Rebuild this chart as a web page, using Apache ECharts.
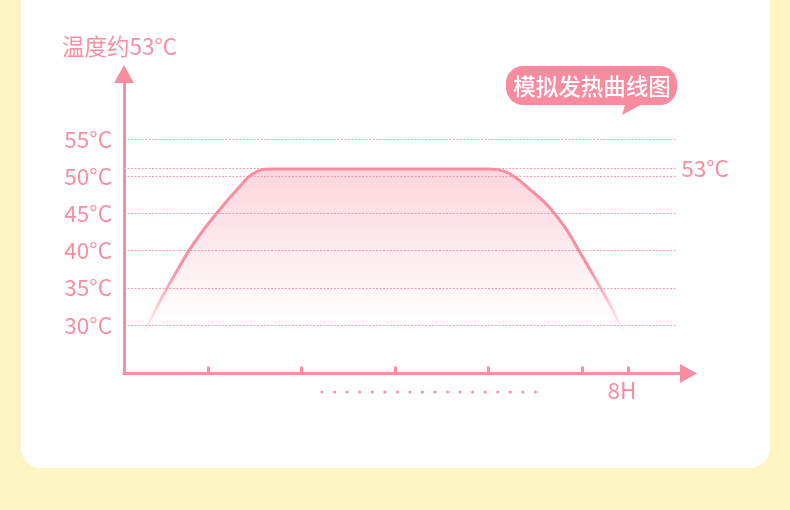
<!DOCTYPE html>
<html>
<head>
<meta charset="utf-8">
<script src="https://cdn.jsdelivr.net/npm/echarts@6/dist/echarts.min.js"></script>
<style>
html,body{margin:0;padding:0;background:#fdf5c3;}
#c{width:790px;height:510px;}
</style>
</head>
<body>
<div id="c"></div>
<script>
// ---- data ----
const yAxisTitle = '温度约53°C';
const bubbleText = '模拟发热曲线图';
const tempTicks = [30, 35, 40, 45, 50, 55];          // labelled gridlines (°C)
const curveHours = [0.33, 0.49, 0.68, 0.85, 1.02, 1.22, 1.47, 1.71, 1.87, 1.97, 2.11, 2.24, 2.40,
                    5.81, 6.05, 6.23, 6.44, 6.66, 6.83, 7.04, 7.23, 7.40, 7.57, 7.77, 7.92];
const curveTemps = [29.3, 31.9, 34.9, 37.4, 39.85, 42.3, 45.0, 47.4, 48.9, 49.85, 50.6, 50.9, 50.93,
                    50.93, 50.6, 49.7, 48.2, 46.6, 45.0, 42.6, 39.85, 37.4, 34.9, 31.8, 29.1];
const plateauLevel = 51.05;                           // drawn level of the plateau guide
const plateauLabel = '53°C';
const xTickHours = [1.33, 2.81, 4.30, 5.78, 7.27, 8];
const xLabelHours = [8];
const xLabelText = '8H';

const PINK = '#f98ea2';
const GRIDPINK = '#f7a0b1';
const FONT = '"Noto Sans CJK SC", "Noto Sans", sans-serif';

const curveData = curveHours.map((h, i) => [h, curveTemps[i]]);

const chart = echarts.init(document.getElementById('c'), null, {renderer: 'canvas'});
chart.setOption({
  backgroundColor: '#fdf5c3',
  animation: false,
  textStyle: {fontFamily: FONT},
  title: {
    text: yAxisTitle,
    left: 62, top: 35, padding: 0,
    textStyle: {color: PINK, fontSize: 22.5, fontWeight: 'normal', fontFamily: FONT}
  },
  graphic: [
    {type: 'rect', z: -100, shape: {x: 21, y: -40, width: 749, height: 508, r: 20}, style: {fill: '#ffffff'}},
    {type: 'rect', z: 100, shape: {x: 506, y: 66, width: 171, height: 39, r: 17}, style: {fill: '#f98b9f'}},
    {type: 'polygon', z: 100, shape: {points: [[626, 102], [646, 102], [622, 115]]}, style: {fill: '#f98b9f'}},
    {type: 'text', z: 101, x: 592, y: 86, style: {text: bubbleText, fill: '#ffffff', font: '500 22.5px ' + FONT, align: 'center', verticalAlign: 'middle'}},
    {type: 'line', z: 10, shape: {x1: 322, y1: 392, x2: 536, y2: 392},
     style: {stroke: PINK, lineWidth: 3, lineCap: 'round', lineDash: [0.1, 12.45]}}
  ],
  grid: [
    {left: 124, right: 101.5, top: 74, bottom: 136.6},
    {left: 124, right: 113, top: 139, bottom: 185}
  ],
  xAxis: [
    {
      gridIndex: 0, type: 'value', min: 0, max: 8.96,
      axisLine: {onZero: false, show: true, symbol: ['none', 'triangle'], symbolSize: [19, 17], lineStyle: {color: PINK, width: 3}},
      axisTick: {show: true, inside: true, length: 7, customValues: xTickHours, lineStyle: {color: PINK, width: 3}},
      axisLabel: {show: true, customValues: xLabelHours, formatter: () => xLabelText, color: PINK, fontSize: 22.5, fontFamily: FONT, margin: 6, padding: [0, 12, 0, 0]},
      splitLine: {show: false}
    },
    {
      gridIndex: 1, type: 'value', min: 0, max: 8.78, show: false
    }
  ],
  yAxis: [
    {
      gridIndex: 0, type: 'value', min: 23.5, max: 63.7,
      axisLine: {onZero: false, show: true, symbol: ['none', 'triangle'], symbolSize: [20, 18], lineStyle: {color: PINK, width: 3}},
      axisTick: {show: false}, axisLabel: {show: false}, splitLine: {show: false}
    },
    {
      gridIndex: 1, type: 'value', min: tempTicks[0], max: tempTicks[tempTicks.length - 1], interval: 5,
      axisLine: {show: false}, axisTick: {show: false},
      axisLabel: {formatter: '{value}°C', color: PINK, fontSize: 22.5, fontFamily: FONT, margin: 12, padding: [6, 0, 0, 0]},
      splitLine: {show: true, lineStyle: {color: GRIDPINK, width: 1.2, type: [2, 1.5]}}
    }
  ],
  series: [
    {
      type: 'line', xAxisIndex: 0, yAxisIndex: 0,
      data: curveData, smooth: 0.4, symbol: 'none', z: 5,
      lineStyle: {width: 3, color: {type: 'linear', x: 0, y: 0, x2: 0, y2: 1, colorStops: [
        {offset: 0, color: PINK}, {offset: 0.6, color: PINK}, {offset: 1, color: 'rgba(249,142,162,0)'}]}},
      areaStyle: {color: {type: 'linear', x: 0, y: 0, x2: 0, y2: 1, colorStops: [
        {offset: 0, color: 'rgba(249,142,162,0.52)'}, {offset: 0.75, color: 'rgba(249,142,162,0.02)'}, {offset: 1, color: 'rgba(249,142,162,0)'}]}},
      markLine: {
        silent: true, symbol: 'none',
        lineStyle: {color: GRIDPINK, width: 1.2, type: [2, 1.5]},
        label: {show: true, position: 'end', distance: 4, formatter: plateauLabel, color: PINK, fontSize: 22.5, fontFamily: FONT, padding: [5, 0, 0, 0]},
        data: [[{coord: [0, plateauLevel]}, {coord: [8.78, plateauLevel]}]]
      }
    }
  ]
});
</script>
</body>
</html>
